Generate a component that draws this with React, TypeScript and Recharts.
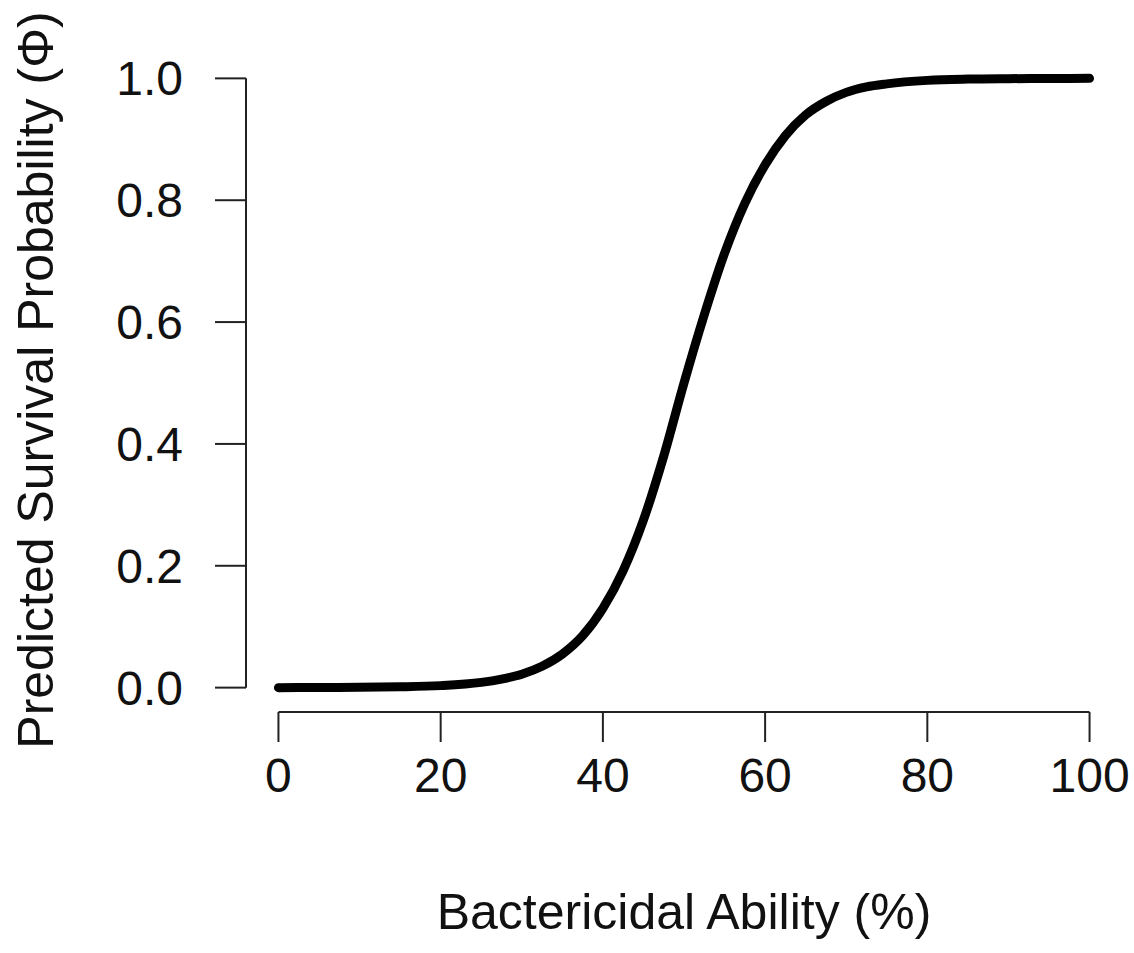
import { Label, Line, LineChart, ReferenceLine, XAxis, YAxis } from 'recharts';

document.body.style.margin = '0';

const FONT = '"Liberation Sans", Arial, Helvetica, sans-serif';
const INK = '#111';

// Bactericidal ability (%) and predicted survival probability
const abilityPct = [
  0, 5, 10, 15, 20, 25, 27.5, 30, 32.5, 35, 37.5, 40, 42.5, 45, 47.5, 50,
  52.5, 55, 57.5, 60, 62.5, 65, 67.5, 70, 72.5, 75, 80, 85, 90, 95, 100,
];
const survivalProb = [
  0, 0.0002, 0.0005, 0.0013, 0.0033, 0.0086, 0.014, 0.022, 0.035, 0.055, 0.085,
  0.13, 0.192, 0.275, 0.38, 0.5, 0.612, 0.713, 0.795, 0.858, 0.906, 0.94,
  0.962, 0.977, 0.986, 0.991, 0.9967, 0.9988, 0.9995, 0.9998, 1.0,
];
const xTicks = [0, 20, 40, 60, 80, 100];
const yTicks = [0, 0.2, 0.4, 0.6, 0.8, 1];

const data = abilityPct.map((x, i) => ({ x, p: survivalProb[i] }));

function XTick({ x, y, payload }: any) {
  return (
    <text x={x} y={y} dy="0.355em" textAnchor="middle" fontSize={48} fontFamily={FONT} fill={INK}>
      {payload.value}
    </text>
  );
}

function YTick({ x, y, payload }: any) {
  return (
    <text x={x} y={y} dy="0.355em" textAnchor="end" fontSize={48} fontFamily={FONT} fill={INK}>
      {Number(payload.value).toFixed(1)}
    </text>
  );
}

export default function App() {
  return (
    <LineChart width={1134} height={953} data={data} margin={{ top: 54, right: 12, bottom: 0, left: 0 }}>
      <XAxis
        dataKey="x"
        type="number"
        domain={[-4, 104]}
        ticks={xTicks}
        allowDataOverflow
        height={241}
        axisLine={false}
        tickLine={{ stroke: '#222', strokeWidth: 2 }}
        tickSize={30}
        tickMargin={33}
        tick={<XTick />}
      >
        <Label
          content={(props: any) => {
            const vb = props.viewBox;
            return (
              <text x={vb.x + vb.width / 2} y={vb.y + vb.height - 24} textAnchor="middle" fontSize={50} fontFamily={FONT} fill={INK}>
                Bactericidal Ability (%)
              </text>
            );
          }}
        />
      </XAxis>
      <YAxis
        type="number"
        domain={[-0.04, 1.04]}
        ticks={yTicks}
        allowDataOverflow
        width={246}
        axisLine={false}
        tickLine={{ stroke: '#222', strokeWidth: 2 }}
        tickSize={31}
        tickMargin={32}
        tick={<YTick />}
      >
        <Label
          content={(props: any) => {
            const vb = props.viewBox;
            const cy = vb.y + vb.height / 2 - 3;
            return (
              <text transform={`translate(53, ${cy}) rotate(-90)`} textAnchor="middle" fontSize={50} fontFamily={FONT} fill={INK}>
                Predicted Survival Probability (Φ)
              </text>
            );
          }}
        />
      </YAxis>
      <ReferenceLine
        segment={[{ x: 0, y: -0.04 }, { x: 100, y: -0.04 }]}
        stroke="#222"
        strokeWidth={2}
        ifOverflow="visible"
      />
      <ReferenceLine
        segment={[{ x: -4, y: 0 }, { x: -4, y: 1 }]}
        stroke="#222"
        strokeWidth={2}
        ifOverflow="visible"
      />
      <Line
        dataKey="p"
        type="monotone"
        stroke="#000"
        strokeWidth={9}
        strokeLinecap="round"
        dot={false}
        activeDot={false}
        isAnimationActive={false}
      />
    </LineChart>
  );
}
